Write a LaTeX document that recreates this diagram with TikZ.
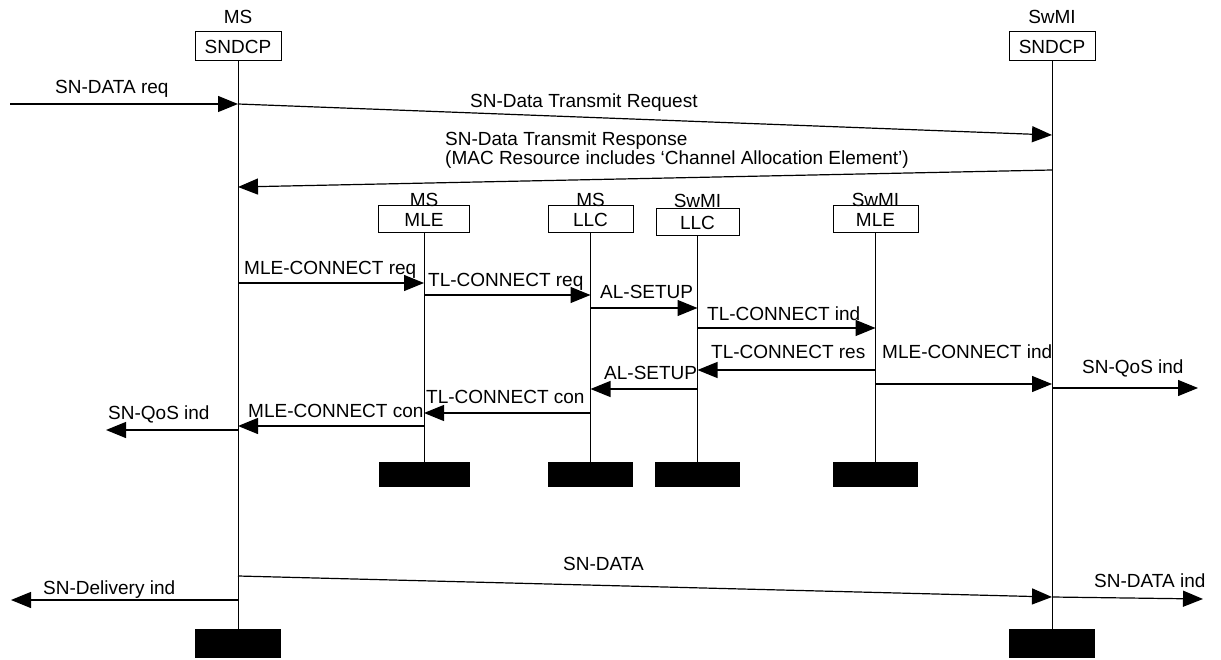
\documentclass[tikz,border=0pt]{standalone}
\usepackage{fontspec}
\setmainfont{Liberation Sans}
\usetikzlibrary{arrows.meta}
\begin{document}
\begin{tikzpicture}[x=1pt,y=-1pt,
  every node/.style={font=\fontsize{19}{22}\selectfont},
  ent/.style={draw, line width=1pt, minimum height=29pt, inner sep=0pt},
  ent2/.style={draw, line width=1pt, minimum height=27pt, inner sep=0pt},
  endbar/.style={fill=black, inner sep=0pt},
  lbl/.style={anchor=base west, inner sep=0pt},
  ttl/.style={anchor=base, inner sep=0pt},
  life/.style={line width=1pt},
  msg/.style={line width=1.2pt, -{Triangle[length=20pt,width=16pt]}},
]
\useasboundingbox (0,0) rectangle (1221,660);

% top entities
\node[ttl] (msT) at (238,24) {MS};
\node[ent, minimum width=86pt] (msS) at (238,46.5) {SNDCP};
\node[ttl] (swT) at (1052,24) {SwMI};
\node[ent, minimum width=86pt] (swS) at (1052,46.5) {SNDCP};

% middle entities
\node[ent2, minimum width=91pt] (msMLE) at (424,219.5) {MLE};
\node[ttl] (msMLEt) at (424,207) {MS};
\node[ent2, minimum width=85pt] (msLLC) at (590.5,219.5) {LLC};
\node[ttl] (msLLCt) at (590.5,207) {MS};
\node[ent2, minimum width=83pt] (swLLC) at (697.5,222.5) {LLC};
\node[ttl] (swLLCt) at (697.5,208) {SwMI};
\node[ent2, minimum width=85pt] (swMLE) at (875.5,219.5) {MLE};
\node[ttl] (swMLEt) at (875.5,207) {SwMI};

% end bars
\node[endbar, minimum width=91pt, minimum height=25pt] (msMLEe) at (424,474.5) {};
\node[endbar, minimum width=85pt, minimum height=25pt] (msLLCe) at (590.5,474.5) {};
\node[endbar, minimum width=85pt, minimum height=25pt] (swLLCe) at (697.5,474.5) {};
\node[endbar, minimum width=85pt, minimum height=25pt] (swMLEe) at (875.5,474.5) {};
\node[endbar, minimum width=86pt, minimum height=29pt] (msSe) at (238,643.5) {};
\node[endbar, minimum width=86pt, minimum height=29pt] (swSe) at (1052,643.5) {};

% lifelines
\draw[life] (msS.south) -- (msSe.north);
\draw[life] (swS.south) -- (swSe.north);
\draw[life] (msMLE.south) -- (msMLEe.north);
\draw[life] (msLLC.south) -- (msLLCe.north);
\draw[life] (swLLC.south) -- (swLLCe.north);
\draw[life] (swMLE.south) -- (swMLEe.north);

% y levels and free ends
\coordinate (yA) at (0,104);
\coordinate (yB) at (0,135);
\coordinate (yC) at (0,170);
\coordinate (yD) at (0,187);
\coordinate (y1) at (0,283);
\coordinate (y2) at (0,295);
\coordinate (y3) at (0,308);
\coordinate (y4) at (0,328);
\coordinate (y5) at (0,370);
\coordinate (y6) at (0,384);
\coordinate (y7) at (0,389);
\coordinate (y8) at (0,413);
\coordinate (y9) at (0,426);
\coordinate (yE) at (0,576);
\coordinate (yF) at (0,597);
\coordinate (extIn) at (10,104);
\coordinate (qosR) at (1198,388);
\coordinate (qosL) at (106,430);
\coordinate (delL) at (11,600);
\coordinate (dataR) at (1203,599);

% messages
\draw[msg] (extIn) -- (msS |- yA);
\node[lbl] at (55,94) {SN-DATA req};
\draw[msg] (msS |- yA) -- (swS |- yB);
\node[lbl] at (470,108) {SN-Data Transmit Request};
\draw[msg] (swS |- yC) -- (msS |- yD);
\node[lbl] at (445,146) {SN-Data Transmit Response};
\node[lbl] at (445,165) {(MAC Resource includes ‘Channel Allocation Element’)};

\draw[msg] (msS |- y1) -- (msMLE |- y1);
\node[lbl] at (244,275) {MLE-CONNECT req};
\draw[msg] (msMLE |- y2) -- (msLLC |- y2);
\node[lbl] at (428,287) {TL-CONNECT req};
\draw[msg] (msLLC |- y3) -- (swLLC |- y3);
\node[lbl] at (600,299) {AL-SETUP};
\draw[msg] (swLLC |- y4) -- (swMLE |- y4);
\node[lbl] at (707,320) {TL-CONNECT ind};
\draw[msg] (swMLE |- y5) -- (swLLC |- y5);
\node[lbl] at (711,359) {TL-CONNECT res};
\draw[msg] (swMLE |- y6) -- (swS |- y6);
\node[lbl] at (882,359) {MLE-CONNECT ind};
\draw[msg] (swS |- qosR) -- (qosR);
\node[lbl] at (1082,373) {SN-QoS ind};
\draw[msg] (swLLC |- y7) -- (msLLC |- y7);
\node[lbl] at (604,379) {AL-SETUP};
\draw[msg] (msLLC |- y8) -- (msMLE |- y8);
\node[lbl] at (426,403) {TL-CONNECT con};
\draw[msg] (msMLE |- y9) -- (msS |- y9);
\node[lbl] at (248,417) {MLE-CONNECT con};
\draw[msg] (msS |- qosL) -- (qosL);
\node[lbl] at (108,419) {SN-QoS ind};

\draw[msg] (msS |- yE) -- (swS |- yF);
\node[lbl] at (563,570) {SN-DATA};
\draw[msg] (msS |- delL) -- (delL);
\node[lbl] at (43,594) {SN-Delivery ind};
\draw[msg] (swS |- yF) -- (dataR);
\node[lbl] at (1094,587) {SN-DATA ind};
\end{tikzpicture}
\end{document}
